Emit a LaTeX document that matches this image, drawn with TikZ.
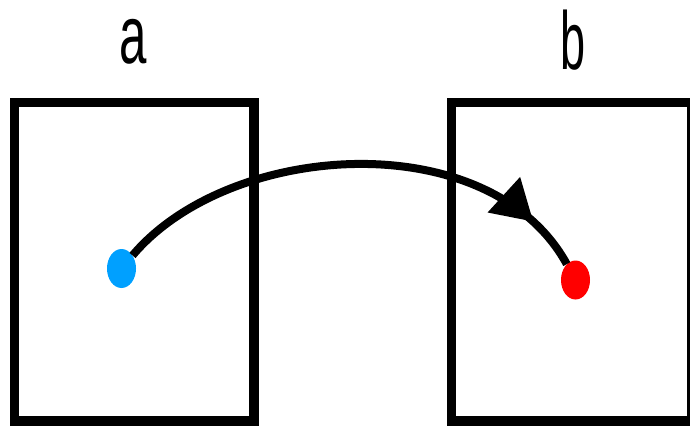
\documentclass[tikz,border=0pt]{standalone}
\usepackage{fontspec}
\setmainfont{Liberation Sans}
\usetikzlibrary{shapes.geometric,arrows.meta,decorations.markings}
\tikzset{
  frame/.style={draw=black, line width=9.5pt},
  label/.style={inner sep=0pt, anchor=base, font=\fontsize{60}{60}\selectfont},
  dot/.style={ellipse, inner sep=0pt, minimum width=29pt, minimum height=39pt},
  link/.style={line width=8pt, postaction={decorate},
    decoration={markings, mark=at position 0.89 with {\arrow{Triangle[length=40pt,width=46pt]}}}}
}
\begin{document}
\begin{tikzpicture}[x=1pt,y=-1pt]
  \useasboundingbox (0,0) rectangle (690,426);
  % the two frames
  \draw[frame] (14.5,102.5) rectangle (254,421) coordinate (boxa);
  \draw[frame] (451.5,102.5) rectangle (692,421) coordinate (boxb);
  % captions, set tall and narrow
  \node[label] (capa) at (133,63) {\scalebox{0.82}[1.37]{a}};
  \node[label] (capb) at (573,69) {\scalebox{0.75}[1.37]{b}};
  % end points
  \node[dot, fill={rgb,255:red,0;green,160;blue,255}] (src) at (121.5,268.5) {};
  \node[dot, fill=red] (dst) at (575.5,280) {};
  % connecting curve
  \draw[link] (src) .. controls (230,140) and (490,124) .. (dst);
\end{tikzpicture}
\end{document}
